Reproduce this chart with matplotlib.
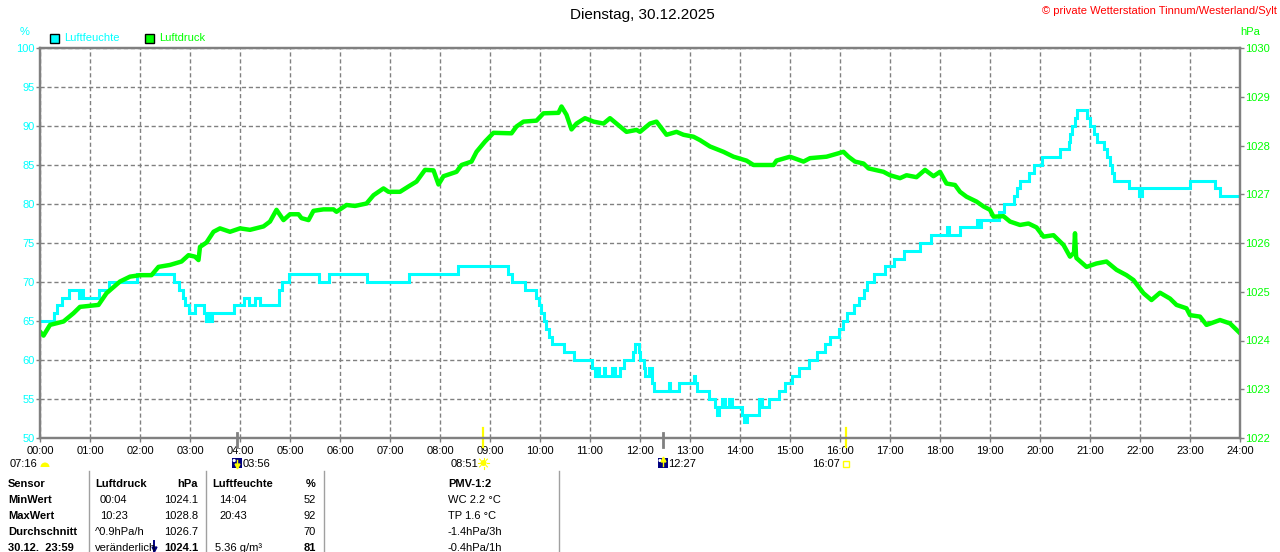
import matplotlib
matplotlib.use("Agg")
import matplotlib.pyplot as plt
from matplotlib.patches import Rectangle, Circle, Wedge
from matplotlib.lines import Line2D
from matplotlib.transforms import Affine2D
import numpy as np

# Humidity (%), step values: hour where the new value starts
hum_t = [0.00, 0.27, 0.33, 0.43, 0.57, 0.77, 0.80, 0.85, 1.17, 1.37, 1.93, 2.67, 2.77, 2.85, 2.90, 2.97,
         3.10, 3.27, 3.32, 3.37, 3.40, 3.43, 3.87, 4.07, 4.17, 4.30, 4.40, 4.77, 4.83, 4.97, 5.57, 5.77,
         6.53, 7.37, 8.37, 9.37, 9.43, 9.70, 9.92, 9.97, 10.02, 10.07, 10.12, 10.17, 10.23, 10.47, 10.67,
         11.03, 11.10, 11.13, 11.17, 11.27, 11.30, 11.43, 11.50, 11.60, 11.67, 11.85, 11.90, 11.97, 12.00,
         12.07, 12.10, 12.17, 12.23, 12.27, 12.57, 12.60, 12.77, 13.07, 13.10, 13.13, 13.37, 13.50, 13.53,
         13.57, 13.63, 13.70, 13.77, 13.83, 14.03, 14.07, 14.13, 14.37, 14.43, 14.57, 14.77, 14.90, 15.03,
         15.17, 15.37, 15.53, 15.70, 15.80, 15.97, 16.05, 16.13, 16.27, 16.37, 16.47, 16.53, 16.67, 16.90,
         17.07, 17.27, 17.60, 17.83, 18.13, 18.17, 18.40, 18.73, 18.77, 18.83, 19.17, 19.27, 19.47, 19.53,
         19.60, 19.77, 19.87, 20.03, 20.40, 20.57, 20.60, 20.63, 20.70, 20.73, 20.93, 21.00, 21.07, 21.13,
         21.27, 21.33, 21.40, 21.43, 21.47, 21.77, 21.97, 22.03, 23.00, 23.50, 23.60, 24.00]
hum_v = [65, 66, 67, 68, 69, 68, 69, 68, 69, 70, 71, 70, 69, 68, 67, 66,
         67, 66, 65, 66, 65, 66, 67, 68, 67, 68, 67, 69, 70, 71, 70, 71,
         70, 71, 72, 71, 70, 69, 68, 67, 66, 65, 64, 63, 62, 61, 60,
         59, 58, 59, 58, 59, 58, 59, 58, 59, 60, 61, 62, 61, 60,
         59, 58, 59, 57, 56, 57, 56, 57, 58, 57, 56, 55, 54, 53,
         54, 55, 54, 55, 54, 53, 52, 53, 55, 54, 55, 56, 57, 58,
         59, 60, 61, 62, 63, 64, 65, 66, 67, 68, 69, 70, 71, 72,
         73, 74, 75, 76, 77, 76, 77, 78, 77, 78, 79, 80, 81, 82,
         83, 84, 85, 86, 87, 88, 89, 90, 91, 92, 91, 90, 89, 88,
         87, 86, 85, 84, 83, 82, 81, 82, 83, 82, 81, 81]

# Air pressure (hPa)
pres_t = [0.00, 0.07, 0.20, 0.47, 0.67, 0.80, 1.17, 1.33, 1.60, 1.80, 2.00, 2.23, 2.37, 2.60, 2.83, 2.97,
          3.10, 3.17, 3.20, 3.33, 3.47, 3.60, 3.80, 4.00, 4.20, 4.47, 4.60, 4.73, 4.87, 5.00, 5.17, 5.23,
          5.37, 5.47, 5.67, 5.87, 5.93, 6.13, 6.30, 6.53, 6.67, 6.87, 6.97, 7.20, 7.37, 7.53, 7.70, 7.87,
          7.97, 8.07, 8.33, 8.43, 8.63, 8.73, 8.90, 9.07, 9.43, 9.53, 9.67, 9.93, 10.07, 10.37, 10.43, 10.53,
          10.63, 10.73, 10.90, 11.07, 11.27, 11.40, 11.53, 11.73, 11.93, 12.00, 12.20, 12.33, 12.53, 12.73,
          12.87, 13.07, 13.20, 13.40, 13.67, 13.87, 14.13, 14.27, 14.47, 14.67, 14.73, 15.00, 15.27, 15.40,
          15.73, 16.07, 16.17, 16.30, 16.47, 16.57, 16.87, 17.00, 17.20, 17.33, 17.53, 17.70, 17.87, 18.00,
          18.13, 18.30, 18.40, 18.53, 18.73, 18.87, 19.00, 19.07, 19.27, 19.40, 19.60, 19.77, 19.93, 20.07,
          20.27, 20.47, 20.60, 20.68, 20.70, 20.72, 20.73, 20.93, 21.13, 21.33, 21.53, 21.73, 21.87, 22.07,
          22.23, 22.40, 22.60, 22.73, 22.93, 23.00, 23.20, 23.33, 23.60, 23.80, 24.00]
pres_v = [1024.18, 1024.10, 1024.32, 1024.39, 1024.56, 1024.69, 1024.73, 1024.97, 1025.21, 1025.31, 1025.34,
          1025.34, 1025.51, 1025.55, 1025.62, 1025.75, 1025.72, 1025.65, 1025.92, 1026.01, 1026.23, 1026.30,
          1026.23, 1026.30, 1026.27, 1026.34, 1026.44, 1026.68, 1026.47, 1026.59, 1026.59, 1026.51, 1026.47,
          1026.66, 1026.69, 1026.69, 1026.64, 1026.78, 1026.76, 1026.81, 1026.98, 1027.12, 1027.05, 1027.05,
          1027.16, 1027.26, 1027.50, 1027.49, 1027.20, 1027.37, 1027.46, 1027.60, 1027.67, 1027.87, 1028.08,
          1028.26, 1028.25, 1028.39, 1028.49, 1028.51, 1028.66, 1028.67, 1028.80, 1028.63, 1028.33, 1028.45,
          1028.56, 1028.49, 1028.45, 1028.56, 1028.45, 1028.28, 1028.32, 1028.28, 1028.45, 1028.49, 1028.22,
          1028.28, 1028.22, 1028.18, 1028.11, 1027.98, 1027.87, 1027.77, 1027.69, 1027.60, 1027.60, 1027.60,
          1027.69, 1027.77, 1027.67, 1027.74, 1027.77, 1027.87, 1027.77, 1027.67, 1027.63, 1027.53, 1027.46,
          1027.39, 1027.33, 1027.39, 1027.35, 1027.50, 1027.37, 1027.46, 1027.22, 1027.19, 1027.05, 1026.95,
          1026.85, 1026.75, 1026.68, 1026.54, 1026.55, 1026.44, 1026.37, 1026.40, 1026.32, 1026.13, 1026.16,
          1025.96, 1025.72, 1025.80, 1026.20, 1025.75, 1025.69, 1025.51, 1025.58, 1025.62, 1025.45, 1025.34,
          1025.24, 1024.97, 1024.83, 1024.98, 1024.86, 1024.73, 1024.66, 1024.52, 1024.49, 1024.32, 1024.42,
          1024.35, 1024.15]

hour_labels = [f"{h:02d}:00" for h in range(25)]
hum_ticks = list(range(50, 101, 5))
pres_ticks = list(range(1022, 1031))

# sun / moon events (hour, label)
moon_events = [(3 + 56 / 60, "03:56", "down"), (12 + 27 / 60, "12:27", "up")]
sun_events = [(8 + 51 / 60, "08:51"), (16 + 7 / 60, "16:07")]

# table rows
table_sensor = ["Sensor", "MinWert", "MaxWert", "Durchschnitt", "30.12.  23:59"]
table_p_left = ["Luftdruck", "00:04", "10:23", "^0.9hPa/h", "veränderlich"]
table_p_right = ["hPa", "1024.1", "1028.8", "1026.7", "1024.1"]
table_h_left = ["Luftfeuchte", "14:04", "20:43", "", "5.36 g/m³"]
table_h_right = ["%", "52", "92", "70", "81"]
table_pmv = ["PMV-1:2", "WC 2.2 °C", "TP 1.6 °C", "-1.4hPa/3h", "-0.4hPa/1h"]

CYAN = "#00FFFF"
GREEN = "#00FF00"
GRAY = "#808080"

plt.rcParams["font.family"] = ["Liberation Sans", "DejaVu Sans"]
plt.rcParams["font.size"] = 8

W, H = 1280, 552
fig = plt.figure(figsize=(W / 100, H / 100), dpi=100)
pix = Affine2D().scale(1, -1).translate(0, H)  # pixel coords, origin top left


def ftext(x, y, s, **kw):
    fig.text(x / W, 1 - y / H, s, va="center", **kw)


ax = fig.add_axes([40 / W, (H - 438) / H, 1200 / W, 390 / H])
ax.set_xlim(0, 24)
ax.set_ylim(50, 100)
ax.step(hum_t, hum_v, where="post", color=CYAN, lw=2.2, solid_joinstyle="miter")
ax.set_xticks(range(25))
ax.set_xticklabels(hour_labels)
ax.set_yticks(hum_ticks)
ax.grid(True, color=GRAY, ls=(0, (3, 2)), lw=1)
ax.tick_params(axis="x", length=3, width=1, color=GRAY, pad=3, labelsize=8)
ax.tick_params(axis="y", length=3, width=1, color=GRAY, pad=1, labelsize=8, labelcolor=CYAN)

ax2 = ax.twinx()
ax2.set_ylim(1022, 1030)
ax2.set_yticks(pres_ticks)
ax2.plot(pres_t, pres_v, color=GREEN, lw=3.2)
ax2.tick_params(axis="y", length=3, width=1, color=GRAY, pad=1, labelsize=8, labelcolor=GREEN)

for a in (ax, ax2):
    for sp in a.spines.values():
        sp.set_color(GRAY)
        sp.set_linewidth(1.6)

# event marks across the time axis
tr = ax.get_xaxis_transform()
for t, _, _ in moon_events:
    ax.plot([t, t], [0.013, -0.023], transform=tr, color=GRAY, lw=2, clip_on=False)
for t, _ in sun_events:
    ax.plot([t, t], [0.026, -0.023], transform=tr, color="#FFFF00", lw=1.6, clip_on=False)

# titles and header texts
ftext(642, 15, "Dienstag, 30.12.2025", ha="center", fontsize=11)
ftext(1277, 11, "© private Wetterstation Tinnum/Westerland/Sylt", ha="right", color="#FF0000", fontsize=8)
ftext(25, 32, "%", ha="center", color=CYAN)
ftext(1250, 32, "hPa", ha="center", color=GREEN)
fig.add_artist(Rectangle((50, 43), 9, -9, transform=pix, fc=CYAN, ec="black", lw=1))
ftext(64, 38, "Luftfeuchte", ha="left", color=CYAN)
fig.add_artist(Rectangle((145, 43), 9, -9, transform=pix, fc=GREEN, ec="black", lw=1))
ftext(159, 38, "Luftdruck", ha="left", color=GREEN)

# twilight / sun / moon row
ftext(10, 464, "07:16", ha="left")
fig.add_artist(Wedge((45, 467), 4.5, 180, 360, transform=pix, fc="#FFFF00", ec="none"))
for t, lab, direction in moon_events:
    x = 40 + t * 50 - 5
    fig.add_artist(Rectangle((x, 468), 10, -10, transform=pix, fc="#000080", ec="none"))
    fig.add_artist(Circle((x + 2.5, 460.5), 1.6, transform=pix, fc="white", ec="none"))
    fig.add_artist(Line2D([x + 5, x + 5], [465.5, 459.5], transform=pix, color="#FFFF00", lw=1))
    fig.add_artist(Line2D([x + 5], [466 if direction == "down" else 459],
                          transform=pix, marker="v" if direction == "down" else "^",
                          color="#FFFF00", ms=3.5, lw=0))
    ftext(x + 11, 464, lab, ha="left")
t, lab = sun_events[0]
xs = 40 + t * 50
ftext(xs - 4, 464, lab, ha="right")
fig.add_artist(Circle((xs + 1, 463), 3, transform=pix, fc="#FFFF00", ec="none"))
for ang in np.arange(0, 360, 45):
    c, s = np.cos(np.radians(ang)), np.sin(np.radians(ang))
    fig.add_artist(Line2D([xs + 1 + 3.5 * c, xs + 1 + 5.5 * c], [463 + 3.5 * s, 463 + 5.5 * s],
                          transform=pix, color="#FFFF00", lw=0.8))
t, lab = sun_events[1]
xs = 40 + t * 50
ftext(xs - 6, 464, lab, ha="right")
fig.add_artist(Rectangle((xs - 3, 467), 6, -6, transform=pix, fc="none", ec="#FFFF00", lw=1))

# table
for x in (89, 206, 324, 559):
    fig.add_artist(Line2D([x, x], [471, 553], transform=pix, color="#A0A0A0", lw=1))
rows_y = [484, 500, 516, 532, 548]
for i, y in enumerate(rows_y):
    bold_row = "bold" if i == 0 else "normal"
    ftext(8, y, table_sensor[i], ha="left", weight="bold")
    ftext(95 if i in (0, 3, 4) else 100, y, table_p_left[i], ha="left", weight=bold_row)
    ftext(198, y, table_p_right[i], ha="right", weight="bold" if i in (0, 4) else "normal")
    ftext(212 if i == 0 else (215 if i == 4 else 219), y, table_h_left[i], ha="left", weight=bold_row)
    ftext(316, y, table_h_right[i], ha="right", weight="bold" if i in (0, 4) else "normal")
    ftext(448, y, table_pmv[i], ha="left", weight=bold_row)
# trend arrow next to the current pressure
fig.add_artist(Line2D([154, 154], [541, 551], transform=pix, color="#000080", lw=1.4))
fig.add_artist(Line2D([154], [549], transform=pix, marker="v", color="#000080", ms=3.5, lw=0))

fig.savefig("out.png", dpi=100)
